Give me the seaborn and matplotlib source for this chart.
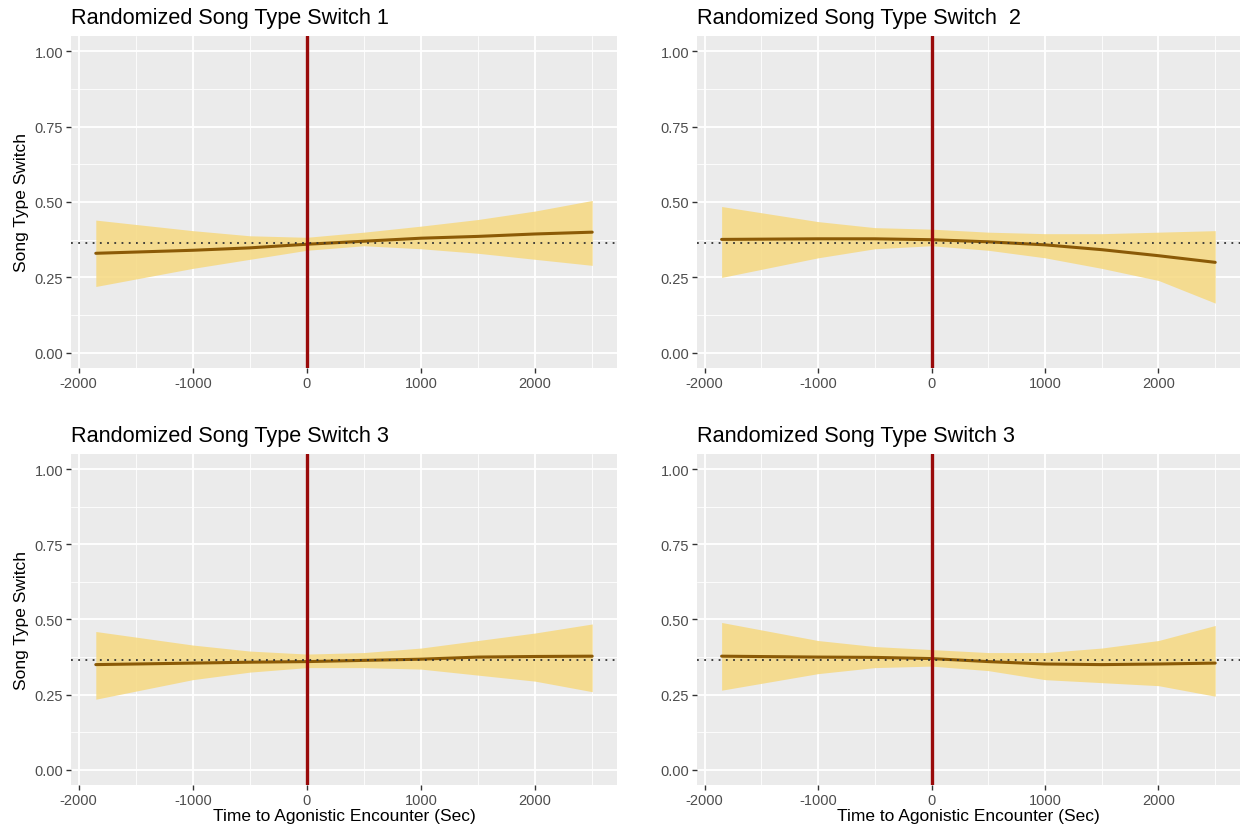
import numpy as np
import pandas as pd
import matplotlib
matplotlib.use("Agg")
import matplotlib.pyplot as plt
import seaborn as sns

# time points (sec) where the fitted curve was read
time_pts = [-1850, -1000, -500, 0, 500, 1000, 1500, 2000, 2500]

titles = ["Randomized Song Type Switch 1", "Randomized Song Type Switch  2",
          "Randomized Song Type Switch 3", "Randomized Song Type Switch 3"]

fit1 = [0.330, 0.340, 0.348, 0.360, 0.370, 0.380, 0.386, 0.394, 0.400]
upr1 = [0.440, 0.405, 0.388, 0.383, 0.400, 0.420, 0.442, 0.470, 0.505]
lwr1 = [0.220, 0.280, 0.310, 0.340, 0.355, 0.345, 0.330, 0.310, 0.290]

fit2 = [0.376, 0.378, 0.378, 0.375, 0.368, 0.358, 0.342, 0.322, 0.300]
upr2 = [0.485, 0.435, 0.415, 0.410, 0.400, 0.395, 0.395, 0.400, 0.405]
lwr2 = [0.250, 0.315, 0.345, 0.355, 0.340, 0.315, 0.280, 0.240, 0.165]

fit3 = [0.350, 0.355, 0.358, 0.360, 0.364, 0.368, 0.375, 0.377, 0.378]
upr3 = [0.460, 0.415, 0.395, 0.385, 0.390, 0.405, 0.430, 0.455, 0.485]
lwr3 = [0.235, 0.300, 0.325, 0.340, 0.340, 0.335, 0.315, 0.295, 0.260]

fit4 = [0.378, 0.375, 0.374, 0.370, 0.360, 0.352, 0.350, 0.352, 0.355]
upr4 = [0.490, 0.430, 0.410, 0.400, 0.390, 0.390, 0.405, 0.430, 0.480]
lwr4 = [0.265, 0.320, 0.340, 0.345, 0.330, 0.300, 0.290, 0.280, 0.245]

baseline = 0.365

fits = [fit1, fit2, fit3, fit4]
uprs = [upr1, upr2, upr3, upr4]
lwrs = [lwr1, lwr2, lwr3, lwr4]

sns.set_theme(style="darkgrid", rc={
    "axes.facecolor": "#EBEBEB",
    "grid.color": "white",
    "axes.edgecolor": "#EBEBEB",
})
plt.rcParams["font.family"] = ["Liberation Sans", "DejaVu Sans"]

fig = plt.figure(figsize=(12.43, 8.29), dpi=100)
positions = [
    [0.0571, 0.5549, 0.4393, 0.4005],
    [0.5607, 0.5549, 0.4368, 0.4005],
    [0.0571, 0.0519, 0.4393, 0.3993],
    [0.5607, 0.0519, 0.4368, 0.3993],
]

for i in range(4):
    ax = fig.add_axes(positions[i])
    df = pd.DataFrame({"time": time_pts, "fit": fits[i],
                       "upr": uprs[i], "lwr": lwrs[i]})
    ax.fill_between(df["time"], df["lwr"], df["upr"], color="#F6D980",
                    alpha=0.85, linewidth=0, zorder=2)
    sns.lineplot(data=df, x="time", y="fit", ax=ax, color="#8B5A06",
                 linewidth=2.2, zorder=3)
    ax.axhline(baseline, color="#333333", linestyle=(0, (1, 3)),
               linewidth=1.3, zorder=4)
    ax.axvline(0, color="#990A0A", linewidth=2.4, zorder=5)

    ax.set_xlim(-2067.5, 2717.5)
    ax.set_ylim(-0.05, 1.05)
    ax.set_xticks([-2000, -1000, 0, 1000, 2000])
    ax.set_xticklabels(["-2000", "-1000", "0", "1000", "2000"])
    ax.set_yticks([0, 0.25, 0.5, 0.75, 1.0])
    ax.set_yticklabels(["0.00", "0.25", "0.50", "0.75", "1.00"])
    ax.set_xticks([-1500, -500, 500, 1500, 2500], minor=True)
    ax.set_yticks([0.125, 0.375, 0.625, 0.875], minor=True)
    ax.grid(which="major", color="white", linewidth=1.3)
    ax.grid(which="minor", color="white", linewidth=0.6)
    ax.tick_params(axis="both", which="major", length=3.5, width=1,
                   color="#333333", labelcolor="#4D4D4D", labelsize=10.5,
                   pad=2, bottom=True, left=True)
    ax.tick_params(which="minor", length=0)
    for s in ax.spines.values():
        s.set_visible(False)

    ax.set_title(titles[i], loc="left", fontsize=15.6, color="black", pad=9)
    if i in (0, 2):
        ax.set_ylabel("Song Type Switch", fontsize=12.5, color="black",
                      labelpad=4)
    else:
        ax.set_ylabel("")
    if i in (2, 3):
        ax.set_xlabel("Time to Agonistic Encounter (Sec)", fontsize=12.5,
                      color="black", labelpad=1)
    else:
        ax.set_xlabel("")

fig.savefig("out.png", dpi=100)
